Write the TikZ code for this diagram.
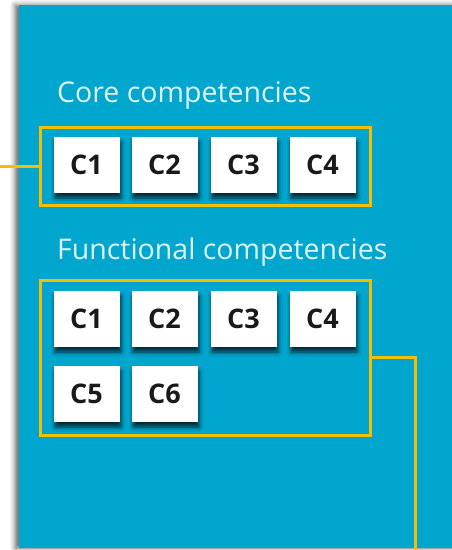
\documentclass[tikz,border=0pt]{standalone}
\usepackage{fontspec}
\setmainfont{Open Sans}
\usetikzlibrary{positioning,shadows.blur}
\definecolor{panelblue}{RGB}{0,166,206}
\definecolor{linegold}{RGB}{245,190,0}
\definecolor{labeltext}{RGB}{222,243,248}
\tikzset{
  card/.style={fill=white, text=black!90, minimum width=66pt, minimum height=56pt, inner sep=0pt,
    font=\bfseries\fontsize{27}{27}\selectfont,
    blur shadow={shadow xshift=1.5pt, shadow yshift=-5pt, shadow blur radius=4pt, shadow opacity=75}},
  group/.style={draw=linegold, line width=3pt, inner sep=0pt},
  heading/.style={text=labeltext, anchor=base west, inner sep=0pt, font=\fontsize{28.5}{28.5}\selectfont},
  link/.style={draw=linegold, line width=3pt}
}
\begin{document}
\begin{tikzpicture}[x=1pt,y=-1pt]
  \useasboundingbox (0,0) rectangle (452,550);
  \fill[panelblue, blur shadow={shadow xshift=-4pt, shadow yshift=0pt, shadow blur radius=5pt, shadow opacity=60}] (19,5) rectangle (470,548);

  \node[heading] (corelabel) at (57,102) {Core competencies};
  \node[heading] (funclabel) at (57,259) {Functional competencies};

  \node[group, minimum width=330pt, minimum height=78pt] (core) at (205,166) {};
  \node[group, minimum width=330pt, minimum height=155pt] (func) at (205,357.5) {};

  \foreach \i/\x in {1/86.5,2/164.5,3/243.5,4/322.5}
    \node[card] (c\i) at (\x,165) {C\i};
  \foreach \i/\x in {1/86.5,2/164.5,3/243.5,4/322.5}
    \node[card] (f\i) at (\x,319) {C\i};
  \foreach \i/\x in {5/86.5,6/164.5}
    \node[card] (f\i) at (\x,394) {C\i};

  \coordinate (corein) at (0,166);
  \coordinate (funcout) at (415,550);
  \draw[link] (corein) -- (core.west);
  \draw[link] (func.east) -| (funcout);
\end{tikzpicture}
\end{document}
